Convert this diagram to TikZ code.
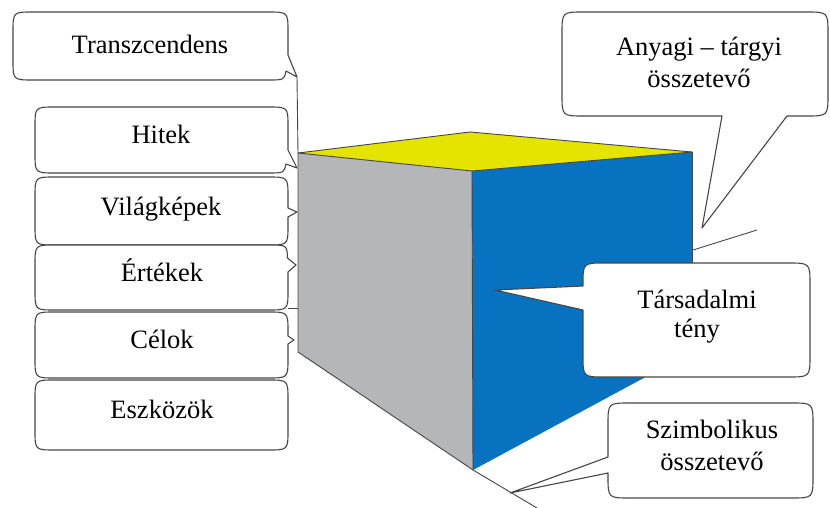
\documentclass[tikz,border=0pt]{standalone}
\usepackage{fontspec}
\setmainfont{Liberation Serif}
\definecolor{cubegray}{RGB}{180,182,184}
\definecolor{cubeblue}{RGB}{6,114,192}
\definecolor{cubeyellow}{RGB}{228,228,0}
\definecolor{edgegray}{RGB}{70,70,70}
\begin{document}
\begin{tikzpicture}[x=1pt,y=-1pt,
  bx/.style={draw=edgegray,line width=1.1pt,fill=white,line join=round},
  edge/.style={draw=edgegray,line width=0.9pt},
  lbl/.style={font=\fontsize{26.5}{32}\selectfont,align=center,inner sep=0pt,anchor=base}]
\useasboundingbox (0,0) rectangle (830,508);

% cube corners
\coordinate (tl) at (298,153);
\coordinate (tb) at (470,132);
\coordinate (tr) at (692,152);
\coordinate (tf) at (472,171);
\coordinate (bf) at (473,470);
\coordinate (bl) at (298,352);
\coordinate (br) at (692,352);

% cube faces
\fill[cubegray] (tl) -- (tf) -- (bf) -- (bl) -- cycle;
\fill[cubeblue] (tf) -- (tr) -- (br) -- (bf) -- cycle;
\fill[cubeyellow] (tl) -- (tb) -- (tr) -- (tf) -- cycle;
\draw[edge] (tl) -- (tb) -- (tr);
\draw[edge] (tl) -- (tf) -- (tr);
\draw[edge] (tf) -- (bf);
\draw[edge] (tl) -- (bl) -- (bf);
\draw[edge] (tr) -- (br);

% extra lines
\coordinate (tzTip) at (297,77);
\coordinate (bfEnd) at (537,508);
\coordinate (ertA) at (288,308);
\coordinate (ertB) at (298,308);
\coordinate (anyA) at (693,250);
\coordinate (anyB) at (757,230);
\draw[edge] (tzTip) -- (tl);
\draw[edge] (bf) -- (bfEnd);
\draw[edge] (ertA) -- (ertB);
\draw[edge] (anyA) -- (anyB);

% left boxes
\draw[bx] (33,12) -- (268,12) .. controls (288,12) .. (288,32) -- (288,55) -- (tzTip) -- (286,71) .. controls (284,80) .. (268,80) -- (33,80) .. controls (13,80) .. (13,60) -- (13,32) .. controls (13,12) .. (33,12) -- cycle;
\node[lbl] (transz) at (150,54) {Transzcendens};

\draw[bx] (55,107) -- (268,107) .. controls (288,107) .. (288,127) -- (288,150) -- (297,168) -- (286,164) .. controls (284,173) .. (268,173) -- (55,173) .. controls (35,173) .. (35,153) -- (35,127) .. controls (35,107) .. (55,107) -- cycle;
\node[lbl] (hitek) at (161,143) {Hitek};

\draw[bx] (55,177) -- (268,177) .. controls (288,177) .. (288,197) -- (288,208) -- (297,212) -- (288,217) -- (288,225) .. controls (288,245) .. (268,245) -- (55,245) .. controls (35,245) .. (35,225) -- (35,197) .. controls (35,177) .. (55,177) -- cycle;
\node[lbl] (vilag) at (161,215) {Világképek};

\draw[bx] (55,245) -- (268,245) .. controls (287,245) .. (287.5,258) -- (296,265) -- (288,272) -- (288,290) .. controls (288,310) .. (268,310) -- (55,310) .. controls (35,310) .. (35,290) -- (35,265) .. controls (35,245) .. (55,245) -- cycle;
\node[lbl] (ertek) at (162,281) {Értékek};

\draw[bx] (55,312) -- (268,312) .. controls (288,312) .. (288,332) -- (288,336) -- (294,340) -- (288,344) -- (288,358) .. controls (288,378) .. (268,378) -- (55,378) .. controls (35,378) .. (35,358) -- (35,332) .. controls (35,312) .. (55,312) -- cycle;
\node[lbl] (celok) at (162,348) {Célok};

\draw[bx] (55,380) -- (268,380) .. controls (288,380) .. (288,400) -- (288,430) .. controls (288,450) .. (268,450) -- (55,450) .. controls (35,450) .. (35,430) -- (35,400) .. controls (35,380) .. (55,380) -- cycle;
\node[lbl] (eszk) at (162,418) {Eszközök};

% right callouts
\draw[bx] (584,12) -- (806,12) .. controls (828,12) .. (828,34) -- (828,94) .. controls (828,116) .. (806,116) -- (787,116) -- (702,228) -- (722,116) -- (584,116) .. controls (562,116) .. (562,94) -- (562,34) .. controls (562,12) .. (584,12) -- cycle;
\node[lbl] (anyagi) at (699,88) {Anyagi – tárgyi\\összetevő};

\draw[bx] (605,263) -- (788,263) .. controls (810,263) .. (810,285) -- (810,355) .. controls (810,377) .. (788,377) -- (605,377) .. controls (583,377) .. (583,355) -- (583,310) -- (495,290) -- (583,286) -- (583,285) .. controls (583,263) .. (605,263) -- cycle;
\node[lbl,font=\fontsize{26.5}{29}\selectfont] (tars) at (697,337) {Társadalmi\\tény};

\draw[bx] (630,403) -- (791,403) .. controls (813,403) .. (813,425) -- (813,476) .. controls (813,498) .. (791,498) -- (630,498) .. controls (608,498) .. (608,476) -- (608,473) -- (510,493) -- (608,457) -- (608,425) .. controls (608,403) .. (630,403) -- cycle;
\node[lbl] (szimb) at (712,470) {Szimbolikus\\összetevő};
\end{tikzpicture}
\end{document}
